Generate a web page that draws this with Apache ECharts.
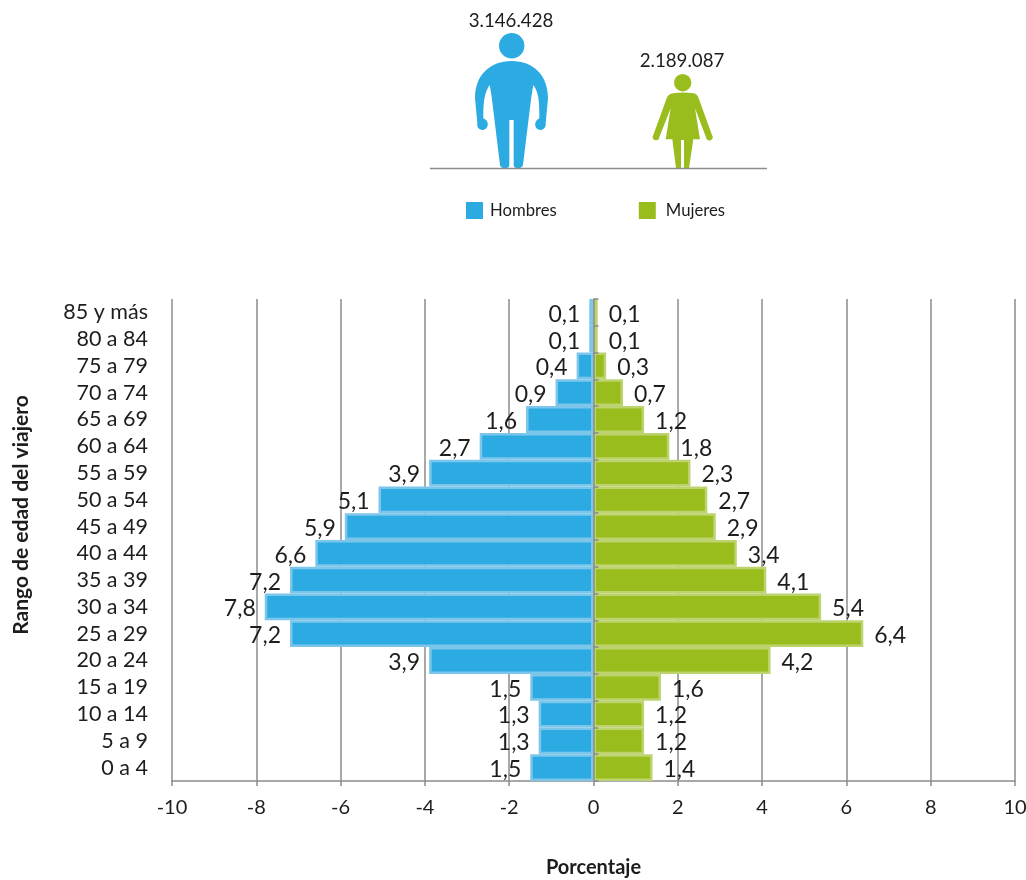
<!DOCTYPE html>
<html><head><meta charset="utf-8">
<style>html,body{margin:0;padding:0;background:#fff}#c{width:1026px;height:880px}</style>
<script src="https://cdn.jsdelivr.net/npm/echarts@6/dist/echarts.min.js"></script>
</head><body><div id="c"></div>
<script>
const ageGroups = ['0 a 4','5 a 9','10 a 14','15 a 19','20 a 24','25 a 29','30 a 34','35 a 39','40 a 44','45 a 49','50 a 54','55 a 59','60 a 64','65 a 69','70 a 74','75 a 79','80 a 84','85 y más'];
const hombres = [-1.5,-1.3,-1.3,-1.5,-3.9,-7.2,-7.8,-7.2,-6.6,-5.9,-5.1,-3.9,-2.7,-1.6,-0.9,-0.4,-0.1,-0.1];
const mujeres = [1.4,1.2,1.2,1.6,4.2,6.4,5.4,4.1,3.4,2.9,2.7,2.3,1.8,1.2,0.7,0.3,0.1,0.1];
const totalHombres = '3.146.428';
const totalMujeres = '2.189.087';

const FONT = 'Lato';
const INK = '#1d1d1b';
const GRAY = '#8c8c8c';
const BLUE = '#2cabe3';
const GREEN = '#9abd1e';
const fmt = p => Math.abs(p.value).toFixed(1).replace('.', ',');
const chart = echarts.init(document.getElementById('c'), null, {renderer:'canvas'});

const manPath = 'M275 183C340 183 384 225 384 295L377 370A16 16 0 1 1 346 370C346 364 352 358 358 355C358 310 358 280 340 255L334 290L309 495Q305 505 295 505Q281 505 281 495L281 360L268 360L268 495Q268 505 254 505Q243 505 240 495L215 290L209 255C192 280 190 310 190 355C197 358 203 364 203 370A16 16 0 1 1 172 370L165 295C165 225 210 183 275 183Z';
const womanPath = 'M760 280Q788 275 820 280Q832 282 836 295L876 405A10 10 0 1 1 858 412L825 325L840 418L820 418L807 505L792 505L792 420L783 420L783 505L768 505L757 418L737 418L752 325L718 412A10 10 0 1 1 700 405L740 295Q745 282 760 280Z';
echarts.graphic.registerShape('manFigure', echarts.graphic.extendPath(manPath, {}));
echarts.graphic.registerShape('womanFigure', echarts.graphic.extendPath(womanPath, {}));

chart.setOption({
  animation:false,
  textStyle:{fontFamily:FONT,color:INK},
  legend:{
    left:461, top:197, itemWidth:17, itemHeight:17, itemGap:82, icon:'rect',
    data:[{name:'Hombres'},{name:'Mujeres',textStyle:{padding:[2,0,0,5]}}],
    textStyle:{fontFamily:FONT,fontSize:16.7,color:INK,padding:[2,0,0,2]},
    itemStyle:{borderWidth:0}
  },
  grid:{left:172,right:11,top:299,bottom:99,containLabel:false,outerBoundsMode:'none'},
  xAxis:{
    type:'value',min:-10,max:10,interval:2,
    name:'Porcentaje',nameLocation:'middle',nameGap:77,
    nameTextStyle:{fontFamily:FONT,fontWeight:'bold',fontSize:20,color:INK},
    axisLine:{show:true,onZero:false,lineStyle:{color:GRAY,width:1.5}},
    axisTick:{show:true,length:5,lineStyle:{color:GRAY,width:1.5}},
    axisLabel:{fontFamily:FONT,fontSize:20,color:INK,margin:17},
    splitLine:{show:true,lineStyle:{color:GRAY,width:1.5}}
  },
  yAxis:[{
    type:'category',data:ageGroups,position:'left',
    axisLine:{show:false,onZero:false},axisTick:{show:false},
    axisLabel:{fontFamily:FONT,fontSize:21.5,color:INK,margin:24,interval:0,padding:[2,0,0,0]}
  },{
    type:'category',data:ageGroups,z:6,
    axisLine:{show:true,onZero:true,lineStyle:{color:GRAY,width:1.5}},
    axisTick:{show:true,length:5,lineStyle:{color:GRAY,width:1.5},inside:false},
    axisLabel:{show:false}
  }],
  series:[{
    name:'Hombres',type:'bar',stack:'p',data:hombres,barWidth:'100%',
    itemStyle:{color:BLUE,borderColor:'#7cc6ec',borderWidth:2.5},
    label:{show:true,position:'left',distance:9,offset:[0,2],formatter:fmt,fontFamily:FONT,fontSize:23,color:INK}
  },{
    name:'Mujeres',type:'bar',stack:'p',data:mujeres,barWidth:'100%',
    itemStyle:{color:GREEN,borderColor:'#bcd36e',borderWidth:2.5},
    label:{show:true,position:'right',distance:11,offset:[0,2],formatter:fmt,fontFamily:FONT,fontSize:23,color:INK}
  }],
  graphic:[
    {type:'circle',shape:{cx:511.7,cy:45.7,r:12.7},style:{fill:BLUE},silent:true},
    {type:'manFigure',x:420,y:0,scaleX:1/3,scaleY:1/3,style:{fill:BLUE},silent:true},
    {type:'circle',shape:{cx:682.7,cy:82.7,r:8.7},style:{fill:GREEN},silent:true},
    {type:'womanFigure',x:420,y:0,scaleX:1/3,scaleY:1/3,style:{fill:GREEN},silent:true},
    {type:'line',shape:{x1:430,y1:168.5,x2:767,y2:168.5},style:{stroke:GRAY,lineWidth:1.5},silent:true},
    {type:'text',x:511,y:21,style:{text:totalHombres,fontFamily:FONT,fontSize:18.7,fill:INK,textAlign:'center',textVerticalAlign:'middle'},silent:true},
    {type:'text',x:682,y:61,style:{text:totalMujeres,fontFamily:FONT,fontSize:18.7,fill:INK,textAlign:'center',textVerticalAlign:'middle'},silent:true},
    {type:'text',x:21,y:515,rotation:Math.PI/2,style:{text:'Rango de edad del viajero',fontFamily:FONT,fontWeight:'bold',fontSize:21,fill:INK,textAlign:'center',textVerticalAlign:'middle'},silent:true}
  ]
});
</script></body></html>
